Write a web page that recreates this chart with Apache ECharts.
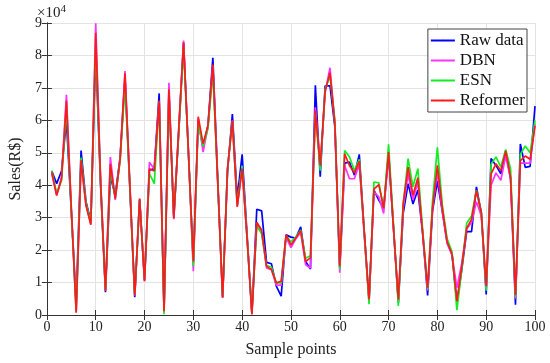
<!DOCTYPE html>
<html>
<head>
<meta charset="utf-8">
<script src="https://cdn.jsdelivr.net/npm/echarts@6/dist/echarts.min.js"></script>
<style>html,body{margin:0;padding:0;background:#fff}#c{width:550px;height:363px}</style>
</head>
<body>
<div id="c"></div>
<script>
// values in units of 1e4 R$
const samples = Array.from({length: 100}, (_, k) => k + 1);
const rawData = [4.44,4.05,4.44,5.99,3.2,0.40,5.07,3.50,2.90,8.10,
4.0,0.70,4.26,3.70,4.85,7.30,3.9,0.55,3.55,1.08,
4.46,4.51,6.83,0.15,6.90,3.00,5.6,8.40,5.0,1.60,
6.00,5.15,5.84,7.93,4.2,0.55,4.4,6.19,3.60,4.95,
2.5,0.05,3.26,3.21,1.62,1.58,0.89,0.58,2.47,2.40,
2.37,2.72,1.65,1.42,7.08,4.26,7.06,7.06,5.8,1.45,
4.68,4.71,4.31,4.95,2.6,0.45,3.85,3.54,3.29,4.95,
2.7,0.38,3.13,4.05,3.42,3.85,2.5,0.60,3.2,4.13,
3.2,2.25,1.86,0.38,1.4,2.57,2.57,3.95,3.15,0.63,
4.82,4.61,4.35,5.06,4.20,0.32,5.27,4.55,4.58,6.44];
const dbnData = [4.35,3.70,4.25,6.79,3.3,0.10,4.70,3.40,2.80,8.99,
4.2,0.75,4.87,3.55,4.80,7.52,4.0,0.60,3.58,1.04,
4.71,4.50,6.60,0.10,7.16,2.95,5.7,8.46,5.0,1.35,
6.05,5.02,5.80,7.70,4.1,0.53,4.5,6.00,3.34,4.55,
2.4,0.05,2.85,2.55,1.45,1.40,0.92,0.92,2.40,2.08,
2.35,2.55,1.55,1.45,6.40,4.60,6.85,7.62,5.9,1.30,
4.61,4.20,4.20,4.65,2.5,0.40,3.80,3.64,3.13,5.00,
2.7,0.40,3.30,4.35,3.55,4.10,2.5,0.75,3.3,4.40,
3.2,2.20,1.85,0.84,1.6,2.65,2.85,3.49,3.05,0.80,
4.00,4.38,4.15,4.90,4.20,0.50,4.68,4.68,4.68,5.90];
const esnData = [4.45,3.75,4.15,6.40,3.2,0.15,4.85,3.45,2.85,8.30,
4.1,0.78,4.45,3.62,4.75,7.10,3.9,0.62,3.55,1.10,
4.36,4.05,6.55,0.02,6.80,3.05,5.6,8.20,5.0,1.50,
5.90,5.20,5.75,7.47,4.1,0.58,4.5,5.95,3.40,4.60,
2.4,0.10,2.75,2.50,1.52,1.48,0.98,1.00,2.45,2.25,
2.40,2.62,1.75,1.83,6.20,4.45,6.95,7.37,6.0,1.40,
5.07,4.87,4.45,4.80,2.6,0.33,4.10,4.07,3.30,5.26,
2.8,0.28,3.40,4.82,3.95,4.51,2.6,0.80,3.5,5.17,
3.4,2.35,1.95,0.15,1.4,2.83,3.05,3.85,3.15,0.75,
4.65,4.87,4.56,5.10,4.50,0.55,4.95,5.21,5.00,6.00];
const reformerData = [4.40,3.68,4.20,6.60,3.3,0.07,4.77,3.39,2.78,8.69,
4.1,0.75,4.65,3.59,4.80,7.45,4.0,0.60,3.59,1.04,
4.51,4.44,6.60,0.12,6.96,2.98,5.7,8.40,5.0,1.65,
6.11,5.28,5.84,7.72,4.1,0.53,4.5,5.99,3.34,4.51,
2.4,0.02,2.85,2.62,1.50,1.40,0.99,1.04,2.47,2.16,
2.37,2.60,1.65,1.76,6.30,4.60,6.90,7.47,5.9,1.50,
4.97,4.60,4.38,4.74,2.6,0.48,3.88,4.02,3.29,5.02,
2.7,0.48,3.44,4.56,3.69,4.23,2.5,0.84,3.3,4.61,
3.3,2.25,1.88,0.43,1.5,2.67,2.95,3.83,3.15,0.89,
4.35,4.66,4.45,5.06,4.24,0.62,4.76,4.90,4.80,5.83];
const xTicks = [0,10,20,30,40,50,60,70,80,90,100];
const yTicks = [0,1,2,3,4,5,6,7,8,9];

const chart = echarts.init(document.getElementById('c'), null, {renderer: 'canvas'});
const font = '"Liberation Serif", "Times New Roman", serif';
const pair = arr => arr.map((v, k) => [samples[k], v]);
const mk = (name, data, color, z) => ({
  name, type: 'line', data: pair(data), symbol: 'none', z,
  lineStyle: {color, width: 1.7}, itemStyle: {color}, animation: false
});
chart.setOption({
  animation: false,
  textStyle: {fontFamily: font},
  grid: {left: 36, right: 15, top: 23, bottom: 46, show: false},
  legend: {
    orient: 'vertical', right: 23, top: 29, itemWidth: 24, itemHeight: 2, itemGap: 3,
    backgroundColor: '#fff', borderColor: '#444', borderWidth: 1, padding: [3, 2, 3, 2],
    textStyle: {fontFamily: font, fontSize: 17, color: '#111'},
    data: ['Raw data', 'DBN', 'ESN', 'Reformer']
  },
  xAxis: [{
    type: 'value', min: 0, max: 100, interval: 10,
    name: 'Sample points', nameLocation: 'middle', nameGap: 27,
    nameTextStyle: {fontFamily: font, fontSize: 16, color: '#222'},
    axisLine: {show: true, lineStyle: {color: '#333'}},
    axisTick: {show: true, inside: true, length: 5, lineStyle: {color: '#333'}},
    axisLabel: {fontFamily: font, fontSize: 14, color: '#222', margin: 5,
      formatter: v => xTicks.includes(v) ? String(v) : ''},
    splitLine: {show: true, lineStyle: {color: '#e3e3e3', width: 1}}
  }, {
    type: 'value', position: 'top', min: 0, max: 100, interval: 10,
    axisLine: {show: true, lineStyle: {color: '#333'}},
    axisTick: {show: true, inside: true, length: 5, lineStyle: {color: '#333'}},
    axisLabel: {show: false}, splitLine: {show: false}
  }],
  yAxis: [{
    type: 'value', min: 0, max: 9, interval: 1,
    name: 'Sales(R$)', nameLocation: 'middle', nameGap: 20,
    nameTextStyle: {fontFamily: font, fontSize: 16, color: '#222'},
    axisLine: {show: true, lineStyle: {color: '#333'}},
    axisTick: {show: true, inside: true, length: 5, lineStyle: {color: '#333'}},
    axisLabel: {fontFamily: font, fontSize: 14, color: '#222', margin: 5,
      formatter: v => yTicks.includes(v) ? String(v) : ''},
    splitLine: {show: true, lineStyle: {color: '#e3e3e3', width: 1}}
  }, {
    type: 'value', position: 'right', min: 0, max: 9, interval: 1,
    axisLine: {show: true, lineStyle: {color: '#333'}},
    axisTick: {show: true, inside: true, length: 5, lineStyle: {color: '#333'}},
    axisLabel: {show: false}, splitLine: {show: false}
  }],
  graphic: [{
    type: 'text', left: 37, top: 4,
    style: {
      text: '{a|×10}{b|4}', fill: '#222',
      rich: {a: {fontFamily: font, fontSize: 15, fill: '#222'},
             b: {fontFamily: font, fontSize: 11, fill: '#222', verticalAlign: 'top', padding: [0,0,7,0]}}
    }
  }],
  series: [
    mk('Raw data', rawData, '#0000ff', 2),
    mk('DBN', dbnData, '#ff33ff', 3),
    mk('ESN', esnData, '#11ee22', 4),
    mk('Reformer', reformerData, '#ff1a1a', 5)
  ]
});
</script>
</body>
</html>
